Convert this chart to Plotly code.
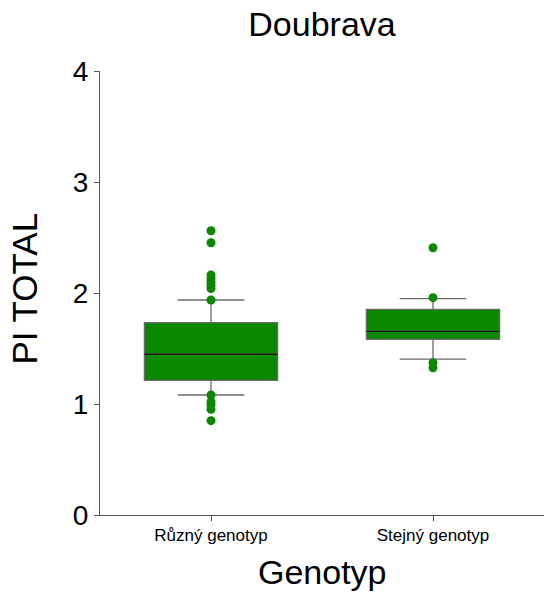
import plotly.graph_objects as go

# Summary statistics for PI TOTAL per genotype group (Doubrava)
categories = ["Různý genotyp", "Stejný genotyp"]
q1 = [1.213, 1.583]
median = [1.448, 1.655]
q3 = [1.733, 1.853]
lower_whisker = [1.081, 1.405]
upper_whisker = [1.937, 1.949]

# Points beyond / at the whisker ends
outliers_ruzny = [2.561, 2.453, 2.162, 2.13, 2.10, 2.07, 2.04, 1.937,
                  1.081, 1.021, 0.991, 0.952, 0.850]
outliers_stejny = [2.408, 1.958, 1.372, 1.327]

y_ticks = [0, 1, 2, 3, 4]

GREEN = "#0b8800"
FONT = "Liberation Sans, Arial, sans-serif"
BOX_WIDTH = 0.6

fig = go.Figure()

xs = list(range(len(categories)))
for i, cat in enumerate(categories):
    fig.add_trace(go.Box(
        x=[xs[i]], q1=[q1[i]], median=[median[i]], q3=[q3[i]],
        lowerfence=[lower_whisker[i]], upperfence=[upper_whisker[i]],
        width=BOX_WIDTH, whiskerwidth=0.5,
        fillcolor=GREEN, line=dict(color="#6a6a6a", width=1.3),
        boxpoints=False, name=cat, showlegend=False, hoverinfo="skip",
    ))
    # darker median line across the box
    fig.add_trace(go.Scatter(
        x=[xs[i] - BOX_WIDTH / 2, xs[i] + BOX_WIDTH / 2],
        y=[median[i], median[i]],
        mode="lines", line=dict(color="#1a1a1a", width=1.3),
        showlegend=False, hoverinfo="skip",
    ))

for i, pts in enumerate([outliers_ruzny, outliers_stejny]):
    fig.add_trace(go.Scatter(
        x=[xs[i]] * len(pts), y=pts, mode="markers",
        marker=dict(color=GREEN, size=9, line=dict(width=0)),
        showlegend=False, hoverinfo="skip",
    ))

fig.update_layout(
    width=544, height=599,
    margin=dict(l=100, r=0, t=71, b=84),
    paper_bgcolor="white", plot_bgcolor="white",
    font=dict(family=FONT, color="black"),
    title=dict(text="Doubrava", x=(100 + 444 / 2) / 544, xanchor="center",
               y=1 - 24.5 / 599, yanchor="middle", yref="container",
               font=dict(size=34, family=FONT, color="black")),
)

fig.update_xaxes(
    range=[-0.5, 1.5], tickvals=xs, ticktext=categories,
    showline=True, linecolor="#555555", linewidth=1,
    ticks="outside", ticklen=5, tickcolor="#555555",
    ticklabelstandoff=0,
    tickfont=dict(size=17, family=FONT, color="black"),
    showgrid=False, zeroline=False,
)
fig.update_yaxes(
    range=[0, 4], tickvals=y_ticks,
    showline=True, linecolor="#555555", linewidth=1,
    ticks="outside", ticklen=5, tickcolor="#555555",
    tickfont=dict(size=28, family=FONT, color="black"),
    showgrid=False, zeroline=False,
)

fig.add_annotation(text="PI TOTAL", textangle=-90, showarrow=False,
                   xref="paper", yref="paper", x=(25 - 100) / 444, y=0.51,
                   xanchor="center", yanchor="middle",
                   font=dict(size=35, family=FONT, color="black"))
fig.add_annotation(text="Genotyp", showarrow=False,
                   xref="paper", yref="paper", x=0.5, y=(515 - 572) / 444,
                   xanchor="center", yanchor="middle",
                   font=dict(size=34, family=FONT, color="black"))

fig.write_html("out.html")
